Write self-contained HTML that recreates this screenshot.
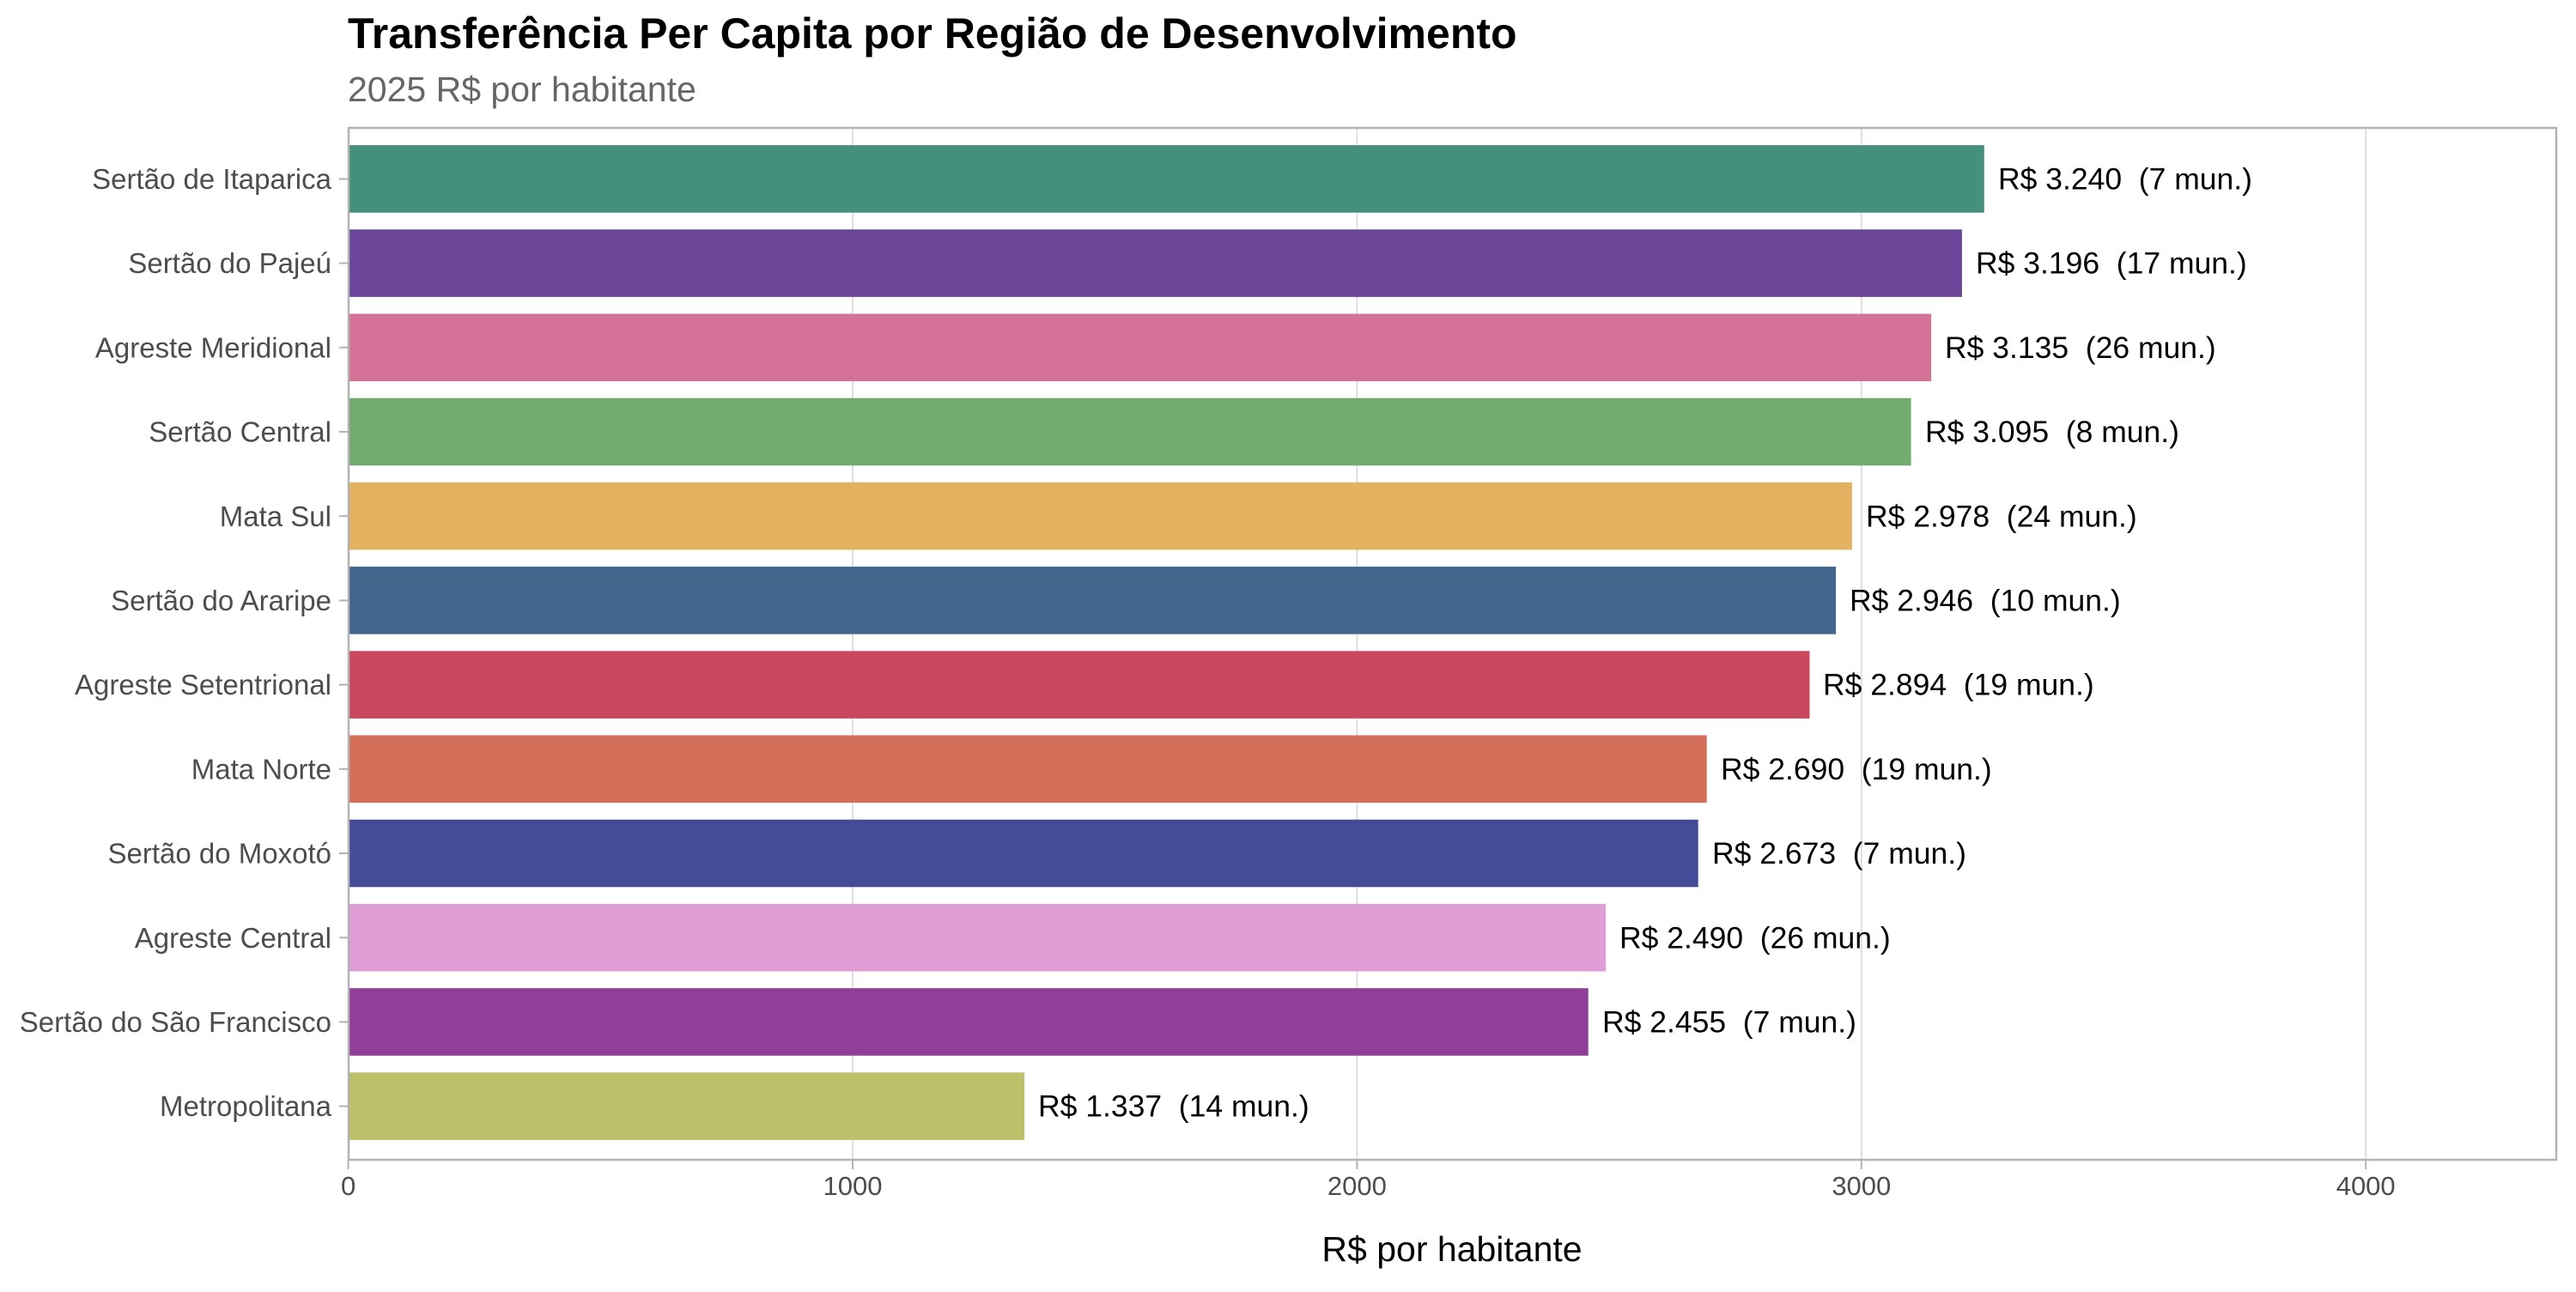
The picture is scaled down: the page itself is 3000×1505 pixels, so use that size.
<!DOCTYPE html>
<html><head><meta charset="utf-8"><style>
html,body{margin:0;padding:0;background:#fff;}
svg text{font-family:"Liberation Sans",Arial,sans-serif;}
</style></head><body>
<svg width="3000" height="1500" viewBox="0 0 3000 1500" xmlns="http://www.w3.org/2000/svg">
<rect width="3000" height="1500" fill="#fff"/>
<text x="405" y="56" font-size="50" font-weight="bold" fill="#000">Transferência Per Capita por Região de Desenvolvimento</text>
<text x="405" y="118" font-size="41" fill="#666">2025 R$ por habitante</text>
<g stroke="#dedede" stroke-width="2">
<line x1="993" y1="149" x2="993" y2="1351"/>
<line x1="1580.4" y1="149" x2="1580.4" y2="1351"/>
<line x1="2167.8" y1="149" x2="2167.8" y2="1351"/>
<line x1="2755.2" y1="149" x2="2755.2" y2="1351"/>
</g>
<g>
<rect x="406" y="169.1" width="1904.8" height="78.6" fill="#45907d"/>
<rect x="406" y="267.3" width="1878.9" height="78.6" fill="#6b4698"/>
<rect x="406" y="365.5" width="1843.1" height="78.6" fill="#d47297"/>
<rect x="406" y="463.7" width="1819.6" height="78.6" fill="#73aa70"/>
<rect x="406" y="561.9" width="1750.9" height="78.6" fill="#e3b260"/>
<rect x="406" y="660.1" width="1732.1" height="78.6" fill="#41688c"/>
<rect x="406" y="758.3" width="1701.5" height="78.6" fill="#ca485e"/>
<rect x="406" y="856.5" width="1581.7" height="78.6" fill="#d4705a"/>
<rect x="406" y="954.7" width="1571.7" height="78.6" fill="#444c9a"/>
<rect x="406" y="1052.9" width="1464.2" height="78.6" fill="#de9dd4"/>
<rect x="406" y="1151.1" width="1443.7" height="78.6" fill="#903f98"/>
<rect x="406" y="1249.3" width="787.0" height="78.6" fill="#bcc068"/>
</g>
<g font-size="35.5" fill="#000">
<text x="2327" y="220.5">R$ 3.240&#160;&#160;(7 mun.)</text>
<text x="2301" y="318.7">R$ 3.196&#160;&#160;(17 mun.)</text>
<text x="2265" y="416.9">R$ 3.135&#160;&#160;(26 mun.)</text>
<text x="2242" y="515.1">R$ 3.095&#160;&#160;(8 mun.)</text>
<text x="2173" y="613.3">R$ 2.978&#160;&#160;(24 mun.)</text>
<text x="2154" y="711.5">R$ 2.946&#160;&#160;(10 mun.)</text>
<text x="2123" y="809.7">R$ 2.894&#160;&#160;(19 mun.)</text>
<text x="2004" y="907.9">R$ 2.690&#160;&#160;(19 mun.)</text>
<text x="1994" y="1006.1">R$ 2.673&#160;&#160;(7 mun.)</text>
<text x="1886" y="1104.3">R$ 2.490&#160;&#160;(26 mun.)</text>
<text x="1866" y="1202.5">R$ 2.455&#160;&#160;(7 mun.)</text>
<text x="1209" y="1300.7">R$ 1.337&#160;&#160;(14 mun.)</text>
</g>
<g font-size="33" fill="#4d4d4d" text-anchor="end">
<text x="386" y="220">Sertão de Itaparica</text>
<text x="386" y="318.2">Sertão do Pajeú</text>
<text x="386" y="416.4">Agreste Meridional</text>
<text x="386" y="514.6">Sertão Central</text>
<text x="386" y="612.8">Mata Sul</text>
<text x="386" y="711">Sertão do Araripe</text>
<text x="386" y="809.2">Agreste Setentrional</text>
<text x="386" y="907.4">Mata Norte</text>
<text x="386" y="1005.6">Sertão do Moxotó</text>
<text x="386" y="1103.8">Agreste Central</text>
<text x="386" y="1202">Sertão do São Francisco</text>
<text x="386" y="1300.2">Metropolitana</text>
</g>
<g stroke="#b3b3b3" stroke-width="2">
<line x1="395" y1="208.4" x2="406" y2="208.4"/>
<line x1="395" y1="306.6" x2="406" y2="306.6"/>
<line x1="395" y1="404.8" x2="406" y2="404.8"/>
<line x1="395" y1="503" x2="406" y2="503"/>
<line x1="395" y1="601.2" x2="406" y2="601.2"/>
<line x1="395" y1="699.4" x2="406" y2="699.4"/>
<line x1="395" y1="797.6" x2="406" y2="797.6"/>
<line x1="395" y1="895.8" x2="406" y2="895.8"/>
<line x1="395" y1="994" x2="406" y2="994"/>
<line x1="395" y1="1092.2" x2="406" y2="1092.2"/>
<line x1="395" y1="1190.4" x2="406" y2="1190.4"/>
<line x1="395" y1="1288.6" x2="406" y2="1288.6"/>
<line x1="405.6" y1="1351" x2="405.6" y2="1362"/>
<line x1="993" y1="1351" x2="993" y2="1362"/>
<line x1="1580.4" y1="1351" x2="1580.4" y2="1362"/>
<line x1="2167.8" y1="1351" x2="2167.8" y2="1362"/>
<line x1="2755.2" y1="1351" x2="2755.2" y2="1362"/>
</g>
<rect x="406" y="149" width="2571" height="1202" fill="none" stroke="#b3b3b3" stroke-width="2.5"/>
<g font-size="31" fill="#4d4d4d" text-anchor="middle">
<text x="405.6" y="1392">0</text>
<text x="993" y="1392">1000</text>
<text x="1580.4" y="1392">2000</text>
<text x="2167.8" y="1392">3000</text>
<text x="2755.2" y="1392">4000</text>
</g>
<text x="1691" y="1469" font-size="41" fill="#000" text-anchor="middle">R$ por habitante</text>
</svg>
</body></html>
